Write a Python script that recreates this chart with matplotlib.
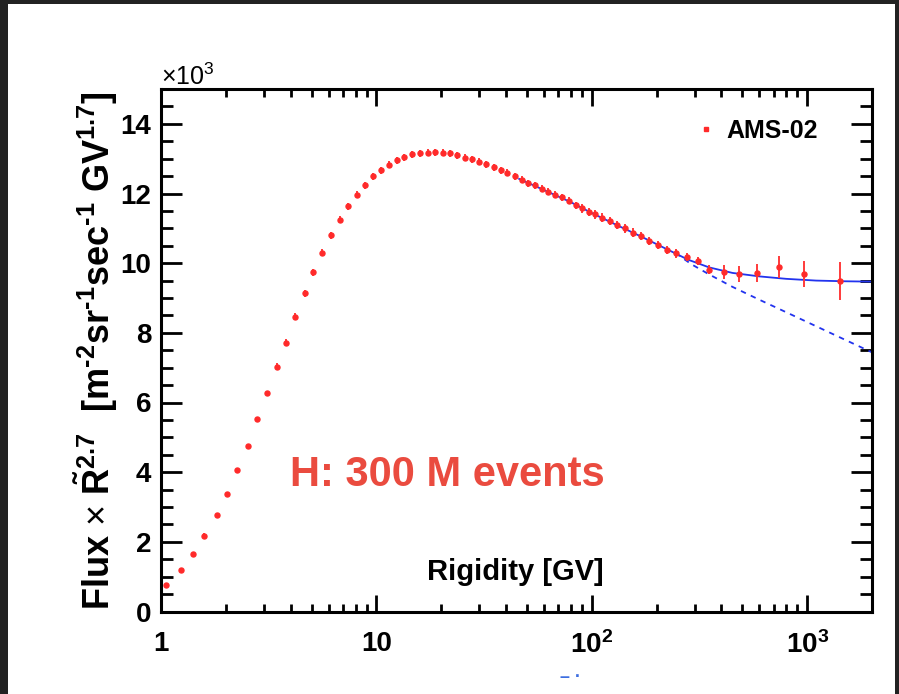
import matplotlib
matplotlib.use('Agg')
import matplotlib.pyplot as plt
from matplotlib.patches import Rectangle
from matplotlib.lines import Line2D
from matplotlib.ticker import FixedLocator, FixedFormatter, MultipleLocator

plt.rcParams['font.family'] = ['Liberation Sans', 'DejaVu Sans']
plt.rcParams['mathtext.fontset'] = 'custom'
plt.rcParams['mathtext.rm'] = 'Liberation Sans'
plt.rcParams['mathtext.bf'] = 'Liberation Sans:bold'
plt.rcParams['mathtext.it'] = 'Liberation Sans:italic'

# AMS-02 proton flux x R^2.7 (units of 10^3)
rigidity = [1.06, 1.24, 1.41, 1.59, 1.81, 2.03, 2.26, 2.53, 2.79, 3.11,
            3.46, 3.82, 4.20, 4.64, 5.10, 5.61, 6.14, 6.76, 7.39, 8.09,
            8.81, 9.63, 10.5, 11.5, 12.5, 13.5, 14.7, 15.9, 17.3, 18.7,
            20.3, 21.9, 23.7, 25.7, 27.8, 30.0, 32.4, 35.0, 37.8, 40.6,
            43.8, 47.2, 50.7, 54.4, 58.5, 62.8, 67.7, 73.0, 78.4, 84.2,
            90.5, 97.3, 104, 112, 121, 131, 142, 155, 169, 184,
            203, 224, 246, 276, 311, 352, 411, 483, 588, 737,
            970, 1422]
flux = [0.76, 1.19, 1.66, 2.18, 2.76, 3.38, 4.05, 4.76, 5.52, 6.26,
        7.02, 7.72, 8.46, 9.13, 9.74, 10.30, 10.80, 11.25, 11.64, 11.97,
        12.24, 12.49, 12.67, 12.82, 12.95, 13.04, 13.12, 13.15, 13.17, 13.19,
        13.17, 13.15, 13.10, 13.03, 12.98, 12.91, 12.84, 12.76, 12.67, 12.59,
        12.50, 12.40, 12.30, 12.24, 12.14, 12.05, 11.97, 11.89, 11.79, 11.66,
        11.57, 11.47, 11.40, 11.31, 11.21, 11.09, 11.00, 10.88, 10.78, 10.64,
        10.52, 10.37, 10.28, 10.18, 10.06, 9.81, 9.75, 9.68, 9.73, 9.89,
        9.69, 9.48]
flux_err = [0.06, 0.06, 0.06, 0.06, 0.06, 0.06, 0.06, 0.06, 0.06, 0.06,
            0.10, 0.10, 0.10, 0.10, 0.10, 0.10, 0.10, 0.10, 0.10, 0.10,
            0.10, 0.10, 0.10, 0.10, 0.10, 0.10, 0.10, 0.10, 0.10, 0.10,
            0.10, 0.10, 0.10, 0.10, 0.10, 0.10, 0.10, 0.10, 0.10, 0.10,
            0.10, 0.10, 0.10, 0.10, 0.10, 0.10, 0.10, 0.10, 0.10, 0.10,
            0.12, 0.12, 0.12, 0.12, 0.12, 0.12, 0.12, 0.12, 0.12, 0.12,
            0.12, 0.12, 0.12, 0.12, 0.12, 0.13, 0.20, 0.23, 0.26, 0.32,
            0.37, 0.55]

# fit with break (solid) and single power law (dashed)
fit_r = [46, 60, 80, 100, 130, 170, 220, 280, 350, 450, 600, 800, 1100, 1500, 2000]
fit_flux = [12.42, 12.10, 11.75, 11.44, 11.10, 10.76, 10.42, 10.10, 9.88, 9.72,
            9.62, 9.55, 9.50, 9.48, 9.47]
pl_r = [220, 250, 290, 350, 450, 600, 800, 1000, 1500, 2000]
pl_flux = [10.42, 10.25, 9.97, 9.68, 9.32, 8.95, 8.59, 8.31, 7.80, 7.44]

x_ticks = [1, 10, 100, 1000]
x_ticklabels = ['1', '10', r'$\mathbf{10^{2}}$', r'$\mathbf{10^{3}}$']
x_minor = [2, 3, 4, 5, 6, 7, 8, 9, 20, 30, 40, 50, 60, 70, 80, 90,
           200, 300, 400, 500, 600, 700, 800, 900]

red = '#ff2a2a'

fig = plt.figure(figsize=(8.99, 6.94), dpi=100, facecolor='#222222')
fig.add_artist(Rectangle((8 / 899, 0), 887 / 899, 690 / 694,
                         transform=fig.transFigure, facecolor='white',
                         edgecolor='none', zorder=-10))

ax = fig.add_axes([161 / 899, 82.5 / 694, 711 / 899, 522.5 / 694])
ax.set_facecolor('white')

ax.plot(fit_r, fit_flux, color='#2233ee', lw=1.3, zorder=2)
ax.plot(pl_r, pl_flux, color='#2233ee', lw=1.3, ls=(0, (3, 3)), zorder=2)
ax.errorbar(rigidity, flux, yerr=flux_err, fmt='o', ms=3.6, color=red,
            ecolor='#ff3a3a', elinewidth=1.4, capsize=0, zorder=3)

ax.set_xscale('log')
ax.set_xlim(1, 2000)
ax.set_ylim(0, 15)

ax.xaxis.set_major_locator(FixedLocator(x_ticks))
ax.xaxis.set_major_formatter(FixedFormatter(x_ticklabels))
ax.xaxis.set_minor_locator(FixedLocator(x_minor))
ax.xaxis.set_minor_formatter(FixedFormatter([''] * len(x_minor)))
ax.yaxis.set_major_locator(MultipleLocator(2))
ax.yaxis.set_minor_locator(MultipleLocator(0.5))

for s in ax.spines.values():
    s.set_linewidth(2.2)
ax.tick_params(axis='both', which='both', direction='in', top=True, right=True,
               width=2.0, labelsize=20)
ax.tick_params(axis='x', which='major', length=12, pad=14)
ax.tick_params(axis='x', which='minor', length=6)
ax.tick_params(axis='y', which='major', length=15, pad=7)
ax.tick_params(axis='y', which='minor', length=8.5)
for lab in ax.get_xticklabels() + ax.get_yticklabels():
    lab.set_fontweight('bold')

ax.text(0.0, 1.008, r'$\times$10$^{3}$', transform=ax.transAxes, fontsize=18,
        ha='left', va='baseline')

hy = '\u2010'
ylab = ('Flux $\\times$ $\\mathbf{\\tilde{R}^{2.7}}$  [m$\\mathbf{^{' + hy + '2}}$'
        'sr$\\mathbf{^{' + hy + '1}}$sec$\\mathbf{^{' + hy + '1}}$ GV$\\mathbf{^{1.7}}$]')
ax.set_ylabel(ylab, fontsize=26, fontweight='bold')
ax.yaxis.set_label_coords(-0.057, 0.5)

ax.text(0.498, 0.06, 'Rigidity [GV]', transform=ax.transAxes, fontsize=21,
        fontweight='bold', ha='center', va='baseline')
ax.text(0.181, 0.24, 'H: 300 M events', transform=ax.transAxes, fontsize=30,
        fontweight='bold', color='#ea4b3f', ha='left', va='baseline')

handle = Line2D([], [], marker='s', ms=3, color=red, ls='none')
ax.legend([handle], ['AMS-02'], loc='center left', bbox_to_anchor=(0.7581, 0.9196),
          frameon=False, prop={'weight': 'bold', 'size': 18}, handlelength=0.5,
          handletextpad=0.55, borderpad=0, borderaxespad=0)

fig.text(560 / 899, 1 - 677 / 694, '\u2013 \u00b7', color='#3d6ee0', fontsize=13,
         fontweight='bold', ha='left', va='center')

fig.savefig('out.png', dpi=100, facecolor=fig.get_facecolor())
